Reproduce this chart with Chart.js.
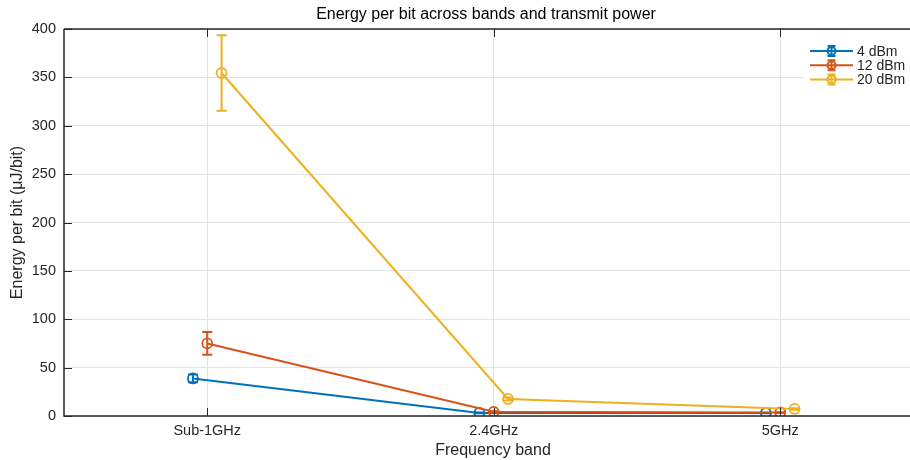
<!DOCTYPE html>
<html>
<head>
<meta charset="utf-8">
<script src="https://cdn.jsdelivr.net/npm/chart.js@4"></script>
<style>
  html, body { margin: 0; padding: 0; background: #fff; overflow: hidden; }
</style>
</head>
<body>
<canvas id="chart" width="910" height="460"></canvas>
<script>
// categories and series
const bands = ['Sub-1GHz', '2.4GHz', '5GHz'];
const powerLabels = ['4 dBm', '12 dBm', '20 dBm'];
const yTicks = [0, 50, 100, 150, 200, 250, 300, 350, 400];

const mean4 = [38.8, 3.2, 3.1];
const err4 = [4.0, 0.4, 0.3];
const mean12 = [75.0, 4.3, 3.6];
const err12 = [11.8, 0.6, 0.4];
const mean20 = [354.5, 17.6, 7.3];
const err20 = [39.0, 1.5, 0.8];

const colors = ['#0072BD', '#D95319', '#EDB120'];
const axisColor = '#262626';
const gridColor = '#e3e3e3';
const font = 'Liberation Sans, Arial, Helvetica, sans-serif';

function makeSet(i, means, errs) {
    const off = (i - 1) * 0.05;
    return {
        label: powerLabels[i],
        data: means.map((v, k) => ({ x: k + 1 + off, y: v })),
        errors: errs,
        borderColor: colors[i],
        backgroundColor: 'rgba(0,0,0,0)',
        borderWidth: 2,
        pointRadius: 5,
        pointBorderWidth: 1.8,
        pointHoverRadius: 5,
        tension: 0,
        order: 3 - i
    };
}

// error bars drawn through the y scale
const errorBars = {
    id: 'errorBars',
    afterDatasetDraw(chart, args) {
        const ds = chart.data.datasets[args.index];
        const meta = args.meta;
        const y = chart.scales.y;
        const ctx = chart.ctx;
        ctx.save();
        ctx.strokeStyle = ds.borderColor;
        ctx.lineWidth = 2;
        meta.data.forEach((pt, k) => {
            const v = ds.data[k].y, e = ds.errors[k];
            const top = y.getPixelForValue(v + e), bot = y.getPixelForValue(v - e);
            ctx.beginPath();
            ctx.moveTo(pt.x, top); ctx.lineTo(pt.x, bot);
            ctx.moveTo(pt.x - 5, top); ctx.lineTo(pt.x + 5, top);
            ctx.moveTo(pt.x - 5, bot); ctx.lineTo(pt.x + 5, bot);
            ctx.stroke();
        });
        ctx.restore();
    }
};

// box, inward ticks, titles and legend
const decorations = {
    id: 'decorations',
    afterDraw(chart) {
        const ctx = chart.ctx, a = chart.chartArea;
        const x = chart.scales.x, y = chart.scales.y;
        ctx.save();
        ctx.strokeStyle = axisColor;
        ctx.lineWidth = 1.5;
        ctx.beginPath();
        ctx.moveTo(a.left, a.top); ctx.lineTo(a.right, a.top);
        ctx.moveTo(a.left, a.top); ctx.lineTo(a.left, a.bottom);
        ctx.lineTo(a.right, a.bottom);
        ctx.stroke();
        ctx.lineWidth = 1;
        ctx.beginPath();
        yTicks.forEach(t => {
            const py = Math.round(y.getPixelForValue(t)) + 0.5;
            ctx.moveTo(a.left, py); ctx.lineTo(a.left + 8, py);
        });
        [1, 2, 3].forEach(t => {
            const px = Math.round(x.getPixelForValue(t)) + 0.5;
            ctx.moveTo(px, a.bottom); ctx.lineTo(px, a.bottom - 8);
            ctx.moveTo(px, a.top); ctx.lineTo(px, a.top + 8);
        });
        ctx.stroke();

        // titles
        ctx.fillStyle = '#000';
        ctx.textAlign = 'center';
        ctx.textBaseline = 'middle';
        ctx.font = '16px ' + font;
        ctx.fillText('Energy per bit across bands and transmit power', 486, 15);
        ctx.fillStyle = axisColor;
        ctx.fillText('Frequency band', 493, 451);
        ctx.save();
        ctx.translate(18, (a.top + a.bottom) / 2);
        ctx.rotate(-Math.PI / 2);
        ctx.fillText('Energy per bit (\u03BCJ/bit)', 0, 0);
        ctx.restore();

        // legend
        ctx.fillStyle = '#fff';
        ctx.fillRect(804, 40, 106, 50);
        ctx.font = '14px ' + font;
        ctx.textAlign = 'left';
        powerLabels.forEach((lab, i) => {
            const ly = 51 + i * 14.2;
            ctx.strokeStyle = colors[i];
            ctx.lineWidth = 2;
            ctx.beginPath();
            ctx.moveTo(810, ly); ctx.lineTo(853, ly);
            ctx.moveTo(831.5, ly - 5); ctx.lineTo(831.5, ly + 5);
            ctx.moveTo(827.5, ly - 5); ctx.lineTo(835.5, ly - 5);
            ctx.moveTo(827.5, ly + 5); ctx.lineTo(835.5, ly + 5);
            ctx.stroke();
            ctx.beginPath();
            ctx.arc(831.5, ly, 4, 0, Math.PI * 2);
            ctx.stroke();
            ctx.fillStyle = axisColor;
            ctx.fillText(lab, 857, ly + 1);
        });
        ctx.restore();
    }
};

new Chart(document.getElementById('chart'), {
    type: 'line',
    data: {
        datasets: [
            makeSet(0, mean4, err4),
            makeSet(1, mean12, err12),
            makeSet(2, mean20, err20)
        ]
    },
    options: {
        responsive: false,
        animation: false,
        layout: { autoPadding: false, padding: { top: 29, right: 0, left: 0, bottom: 0 } },
        plugins: {
            legend: { display: false },
            title: { display: false },
            tooltip: { enabled: false }
        },
        scales: {
            x: {
                type: 'linear',
                min: 0.5,
                max: 3.453,
                afterBuildTicks: s => { s.ticks = [1, 2, 3].map(v => ({ value: v })); },
                afterFit: s => { s.height = 44; s.paddingLeft = 0; s.paddingRight = 0; },
                ticks: {
                    callback: v => bands[v - 1],
                    font: { family: font, size: 14.5 },
                    color: axisColor,
                    padding: 6,
                    maxRotation: 0
                },
                grid: { color: gridColor, drawTicks: false },
                border: { display: false }
            },
            y: {
                min: 0,
                max: 400,
                afterBuildTicks: s => { s.ticks = yTicks.map(v => ({ value: v })); },
                afterFit: s => { s.width = 64; s.paddingTop = 0; s.paddingBottom = 0; },
                ticks: {
                    font: { family: font, size: 14.5 },
                    color: axisColor,
                    padding: 8
                },
                grid: { color: gridColor, drawTicks: false },
                border: { display: false }
            }
        }
    },
    plugins: [errorBars, decorations]
});
</script>
</body>
</html>
